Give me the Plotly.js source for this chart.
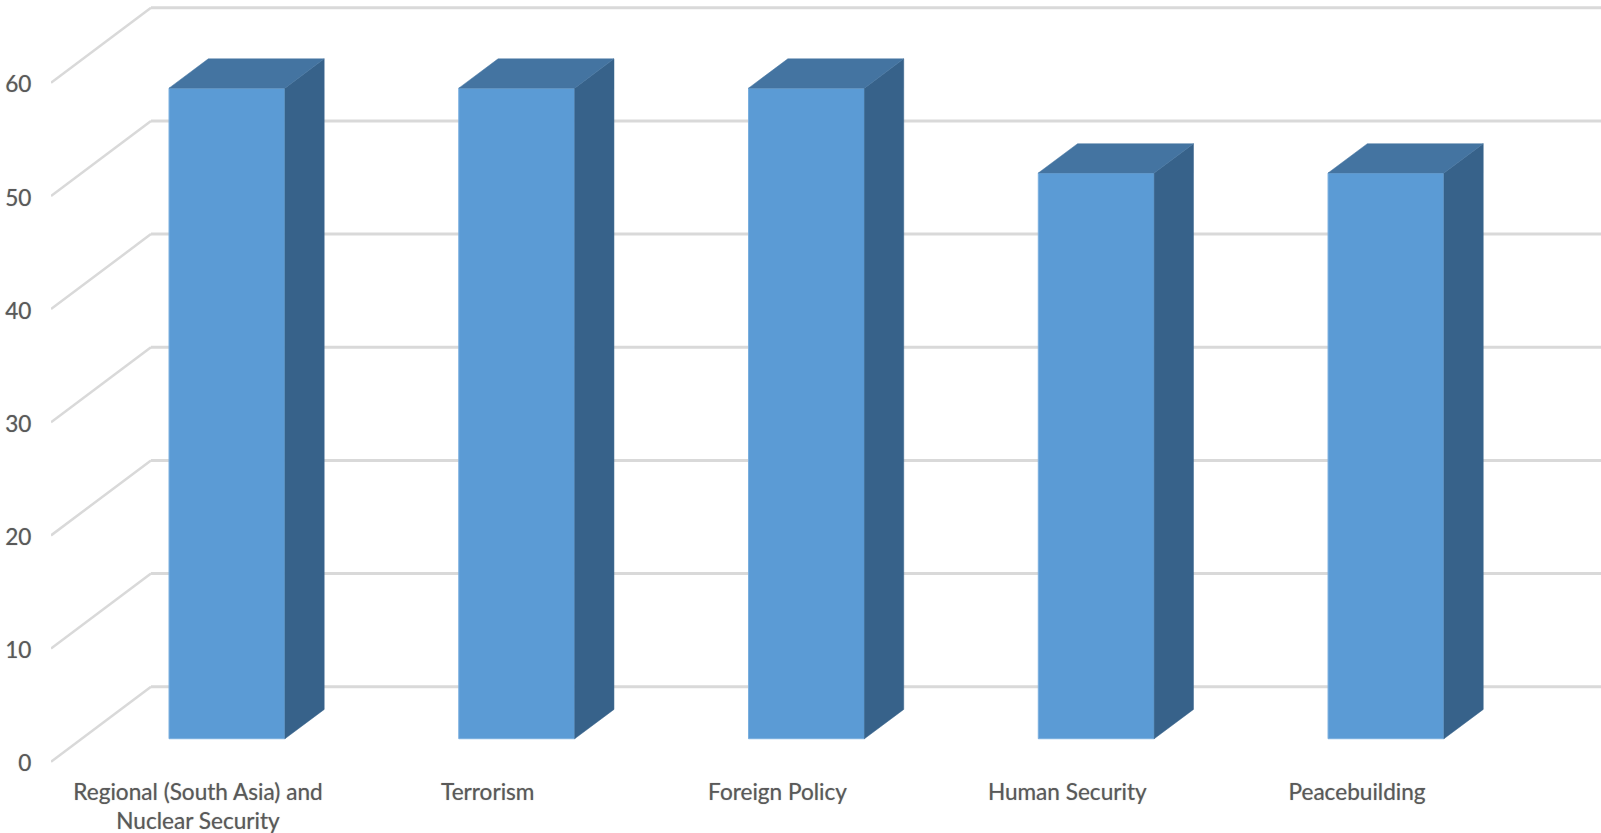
<!DOCTYPE html>
<html>
<head>
<meta charset="utf-8">
<script src="https://cdn.plot.ly/plotly-3.0.1.min.js"></script>
<style>html,body{margin:0;padding:0;background:#fff;overflow:hidden}#chart{width:1601px;height:833px}</style>
</head>
<body>
<div id="chart"></div>
<script>
var categories = ["Regional (South Asia) and<br>Nuclear Security", "Terrorism", "Foreign Policy", "Human Security", "Peacebuilding"];
var values = [57.5, 57.5, 57.5, 50, 50];
var yTicks = [0, 10, 20, 30, 40, 50, 60];

// oblique "3-D" projection, in axis units
var wallDx = 0.345, wallDy = 6.63;   // floor depth
var gridDrop = 0.09;                 // grid sits a hair under the axis scale
var labelDrop = 0.24;                // tick labels sit slightly lower than their tick
var barOffset = 0.1, barBase = 1.94; // where the bar's front face sits on the floor
var barHalf = 0.2, barDx = 0.1356, barDy = 2.59; // bar half width and depth

var xIdx = categories.map(function (_, i) { return i; });
var xMin = -0.5073, xMax = 4.842;
var gridColor = "#d9d9d9";
var textFont = {family: "Lato", size: 22.6, color: "#595959", shadow: "0 0 1px rgba(89,89,89,0.55)"};

var shapes = [];
yTicks.forEach(function (v) {
  var y = v - gridDrop;
  shapes.push({type: "line", layer: "below", xref: "x", yref: "y",
    x0: xMin, y0: y, x1: xMin + wallDx, y1: y + wallDy,
    line: {color: gridColor, width: 2.5}});
  shapes.push({type: "line", layer: "below", xref: "x", yref: "y",
    x0: xMin + wallDx, y0: y + wallDy, x1: xMax, y1: y + wallDy,
    line: {color: gridColor, width: 3}});
});

var traces = [{
  type: "bar", x: xIdx.map(function (i) { return i + barOffset; }), y: values, base: barBase,
  width: barHalf * 2, hoverinfo: "skip",
  marker: {color: "#5b9bd5", line: {color: "#79aede", width: 1}}
}];

values.forEach(function (v, i) {
  var l = i + barOffset - barHalf, r = i + barOffset + barHalf, t = barBase + v, b = barBase;
  traces.push({type: "scatter", mode: "lines", fill: "toself", fillcolor: "#37628a", hoverinfo: "skip",
    x: [r, r + barDx, r + barDx, r, r], y: [b, b + barDy, t + barDy, t, b],
    line: {color: "#37628a", width: 0.5}});
  traces.push({type: "scatter", mode: "lines", fill: "toself", fillcolor: "#4474a1", hoverinfo: "skip",
    x: [l, l + barDx, r + barDx, r, l], y: [t, t + barDy, t + barDy, t, t],
    line: {color: "#4474a1", width: 0.5}});
});

var layout = {
  width: 1601, height: 833, showlegend: false, paper_bgcolor: "#fff", plot_bgcolor: "#fff",
  margin: {l: 51, r: 0, t: 0, b: 60.68, pad: 0},
  xaxis: {range: [xMin, xMax], tickmode: "array", tickvals: xIdx, ticktext: categories,
    showgrid: false, zeroline: false, showline: false, ticks: "", ticklabelstandoff: 4,
    tickangle: 0, automargin: false, tickfont: textFont},
  yaxis: {range: [-1, 67.23], tickmode: "array", tickvals: yTicks.map(function (v) { return v - labelDrop; }), ticktext: yTicks.map(String),
    showgrid: false, zeroline: false, showline: false, ticks: "outside", ticklen: 14, tickcolor: "rgba(0,0,0,0)",
    automargin: false, tickfont: textFont},
  shapes: shapes
};
Plotly.newPlot("chart", traces, layout, {displayModeBar: false, staticPlot: true});
</script>
</body>
</html>
